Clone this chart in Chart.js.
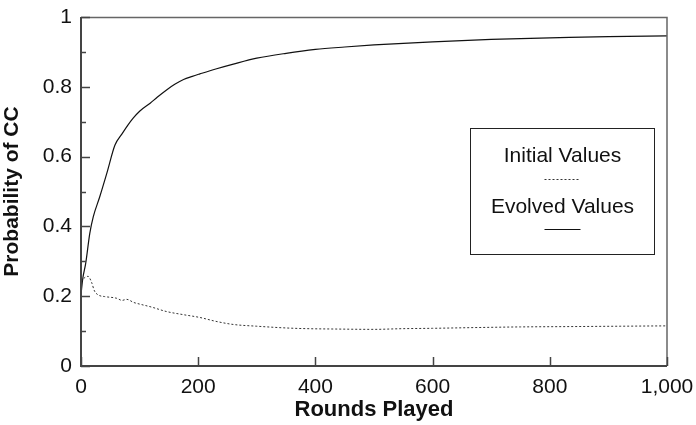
<!DOCTYPE html>
<html>
<head>
<meta charset="utf-8">
<script src="https://cdn.jsdelivr.net/npm/chart.js@4"></script>
<style>
  html, body { margin: 0; padding: 0; background: #fff; }
  #wrap { width: 696px; height: 425px; }
</style>
</head>
<body>
<div id="wrap"><canvas id="c" width="696" height="425"></canvas></div>
<script>
// Probability of mutual cooperation (CC) over rounds played
const evolvedRounds = [0, 3, 8, 15, 21, 32, 44, 58, 70, 80, 89, 100, 118, 130, 146, 160, 175, 190, 203, 230, 260, 300, 350, 400, 450, 500, 600, 700, 800, 900, 1000];
const evolvedValues = [0.205, 0.25, 0.294, 0.38, 0.428, 0.485, 0.552, 0.633, 0.665, 0.69, 0.71, 0.73, 0.753, 0.77, 0.791, 0.807, 0.821, 0.83, 0.837, 0.851, 0.865, 0.882, 0.896, 0.907, 0.914, 0.920, 0.929, 0.936, 0.940, 0.944, 0.946];

const initialRounds = [0, 3, 7, 12, 18, 23, 30, 40, 61, 70, 78, 90, 101, 120, 146, 175, 203, 230, 260, 300, 350, 385, 430, 499, 550, 600, 669, 750, 840, 920, 1000];
const initialValues = [0.242, 0.248, 0.254, 0.257, 0.24, 0.215, 0.203, 0.199, 0.194, 0.188, 0.191, 0.182, 0.177, 0.169, 0.156, 0.147, 0.139, 0.128, 0.119, 0.114, 0.109, 0.107, 0.106, 0.105, 0.107, 0.108, 0.110, 0.112, 0.113, 0.114, 0.115];

const seriesNames = ['Initial Values', 'Evolved Values'];
const yMajorTicks = [0, 0.2, 0.4, 0.6, 0.8, 1];
const yMinorTicks = [0.1, 0.3, 0.5, 0.7, 0.9];
const xMajorTicks = [0, 200, 400, 600, 800, 1000];

const FONT = "Arial, 'Liberation Sans', Helvetica, sans-serif";
const toPoints = (xs, ys) => xs.map((x, i) => ({ x: x, y: ys[i] }));

// Frame, inward tick marks and the boxed legend
const framePlugin = {
  id: 'frame',
  afterDatasetsDraw(chart) {
    const { ctx, chartArea: a, scales: { x, y } } = chart;
    ctx.save();
    // top and right border
    ctx.strokeStyle = '#666';
    ctx.lineWidth = 1.5;
    ctx.beginPath();
    ctx.moveTo(a.left, a.top + 0.5);
    ctx.lineTo(a.right, a.top + 0.5);
    ctx.lineTo(a.right, a.bottom);
    ctx.stroke();
    // left and bottom axes
    ctx.strokeStyle = '#444';
    ctx.lineWidth = 2;
    ctx.beginPath();
    ctx.moveTo(a.left, a.top);
    ctx.lineTo(a.left, a.bottom);
    ctx.lineTo(a.right, a.bottom);
    ctx.stroke();
    // tick marks pointing into the plot
    ctx.lineWidth = 1.5;
    ctx.beginPath();
    yMajorTicks.forEach(v => {
      const py = Math.round(y.getPixelForValue(v)) + 0.5;
      ctx.moveTo(a.left, py); ctx.lineTo(a.left + 9, py);
    });
    yMinorTicks.forEach(v => {
      const py = Math.round(y.getPixelForValue(v)) + 0.5;
      ctx.moveTo(a.left, py); ctx.lineTo(a.left + 5, py);
    });
    xMajorTicks.forEach(v => {
      const px = Math.round(x.getPixelForValue(v)) + 0.5;
      ctx.moveTo(px, a.bottom); ctx.lineTo(px, a.bottom - 9);
    });
    ctx.stroke();

    // legend box
    const bx = 470.5, by = 128.5, bw = 184, bh = 126;
    ctx.fillStyle = '#fff';
    ctx.fillRect(bx, by, bw, bh);
    ctx.strokeStyle = '#222';
    ctx.lineWidth = 1;
    ctx.strokeRect(bx, by, bw, bh);
    const cx = bx + bw / 2;
    ctx.fillStyle = '#111';
    ctx.font = '21px ' + FONT;
    ctx.textAlign = 'center';
    ctx.textBaseline = 'alphabetic';
    const rows = [
      { text: seriesNames[0], base: 162, lineY: 179.5, ds: chart.data.datasets[0] },
      { text: seriesNames[1], base: 213, lineY: 229.5, ds: chart.data.datasets[1] }
    ];
    rows.forEach(r => {
      ctx.fillText(r.text, cx, r.base);
      ctx.save();
      ctx.strokeStyle = r.ds.borderColor;
      ctx.lineWidth = 1;
      ctx.setLineDash(r.ds.borderDash || []);
      ctx.beginPath();
      ctx.moveTo(cx - 18, r.lineY);
      ctx.lineTo(cx + 18, r.lineY);
      ctx.stroke();
      ctx.restore();
    });
    ctx.restore();
  }
};

new Chart(document.getElementById('c'), {
  type: 'line',
  data: {
    datasets: [
      {
        label: seriesNames[0],
        data: toPoints(initialRounds, initialValues),
        borderColor: '#333',
        borderWidth: 1,
        borderDash: [2, 2],
        pointRadius: 0,
        cubicInterpolationMode: 'monotone',
        fill: false
      },
      {
        label: seriesNames[1],
        data: toPoints(evolvedRounds, evolvedValues),
        borderColor: '#111',
        borderWidth: 1.2,
        pointRadius: 0,
        cubicInterpolationMode: 'monotone',
        fill: false
      }
    ]
  },
  options: {
    responsive: false,
    animation: false,
    events: [],
    layout: { padding: { top: 17, right: 29, left: 0, bottom: 0 } },
    plugins: {
      legend: { display: false },
      tooltip: { enabled: false }
    },
    scales: {
      x: {
        type: 'linear',
        min: 0,
        max: 1000,
        afterFit(s) { s.height = 59; s.paddingLeft = 0; s.paddingRight = 0; },
        afterBuildTicks(s) { s.ticks = xMajorTicks.map(v => ({ value: v })); },
        grid: { display: false, drawTicks: false },
        border: { display: false },
        ticks: {
          padding: 9,
          color: '#111',
          font: { family: FONT, size: 21 },
          maxRotation: 0,
          autoSkip: false,
          callback: v => v.toLocaleString('en-US')
        },
        title: {
          display: true,
          text: 'Rounds Played',
          color: '#111',
          font: { family: FONT, size: 22, weight: 'bold' },
          padding: { top: 0, bottom: 2 }
        }
      },
      y: {
        type: 'linear',
        min: 0,
        max: 1,
        afterFit(s) { s.width = 81; s.paddingTop = 0; s.paddingBottom = 0; },
        afterBuildTicks(s) { s.ticks = yMajorTicks.map(v => ({ value: v })); },
        grid: { display: false, drawTicks: false },
        border: { display: false },
        ticks: {
          padding: 9,
          color: '#111',
          font: { family: FONT, size: 21 },
          autoSkip: false,
          callback: v => String(v)
        },
        title: {
          display: true,
          text: 'Probability of CC',
          color: '#111',
          font: { family: FONT, size: 21, weight: 'bold' },
          padding: { top: 0, bottom: 0 }
        }
      }
    }
  },
  plugins: [framePlugin]
});
</script>
</body>
</html>
